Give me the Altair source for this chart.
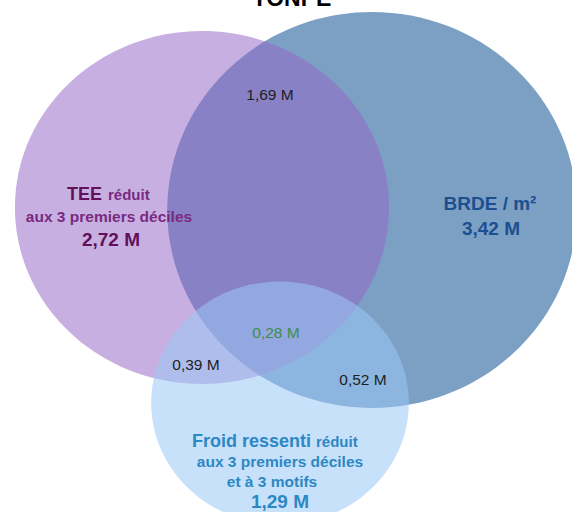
import altair as alt
import pandas as pd

# ---------------- data ----------------
title_text = "TONPE"
set_names = ["TEE", "BRDE / m²", "Froid ressenti"]
set_qualifiers = ["réduit", "", "réduit"]
tee_details = ["aux 3 premiers déciles"]
froid_details = ["aux 3 premiers déciles", "et à 3 motifs"]
set_values = [2.72, 3.42, 1.29]          # millions
overlap_names = ["TEE∩BRDE", "TEE∩BRDE∩Froid", "TEE∩Froid", "BRDE∩Froid"]
overlap_values = [1.69, 0.28, 0.39, 0.52]  # millions


def fmt(v):
    return f"{v:.2f}".replace(".", ",") + " M"


# ---------------- layout (pixel frame of the picture) ----------------
W, H = 572, 512
circle_cx = [202, 372, 280]
circle_cy = [207.5, 210, 403]
circle_stretch = [1.06, 1.035, 1.06]
circle_colors = ["#9565C5", "#7BA0C4", "#9BC8F6"]
circle_opacity = [0.52, 1.0, 0.55]
draw_order = [1, 0, 2]  # BRDE at the bottom, then TEE, then Froid

overlap_x = [270, 276, 196, 363]
overlap_y = [100, 338, 370, 385]
overlap_colors = ["#1e1e1e", "#3E8E4E", "#1e1e1e", "#1e1e1e"]

xs = alt.Scale(domain=[0, W], nice=False, zero=False)
ys = alt.Scale(domain=[0, H], nice=False, zero=False, reverse=True)


def ellipse_path(s):
    k = 0.5523
    a = s
    return (f"M {a} 0 C {a} {k} {a*k:.4f} 1 0 1 C {-a*k:.4f} 1 {-a} {k} {-a} 0 "
            f"C {-a} {-k} {-a*k:.4f} -1 0 -1 C {a*k:.4f} -1 {a} {-k} {a} 0 Z")


size_scale = alt.Scale(type="linear", domain=[0, 1], range=[0, 45800])

layers = []
for i in draw_order:
    df = pd.DataFrame({"set": [set_names[i]], "value": [set_values[i]],
                       "x": [circle_cx[i]], "y": [circle_cy[i]]})
    layers.append(
        alt.Chart(df).mark_point(filled=True, strokeWidth=0,
                                 shape=ellipse_path(circle_stretch[i]),
                                 opacity=circle_opacity[i], clip=True)
        .encode(x=alt.X("x:Q", scale=xs, axis=None),
                y=alt.Y("y:Q", scale=ys, axis=None),
                size=alt.Size("value:Q", scale=size_scale, legend=None),
                color=alt.value(circle_colors[i]))
    )


def text_layer(labels, xpos, ypos, size, color, bold=True, align="center",
               font="Liberation Sans"):
    df = pd.DataFrame({"label": labels, "x": xpos, "y": ypos})
    return alt.Chart(df).mark_text(
        fontSize=size, color=color, fontWeight="bold" if bold else "normal",
        align=align, baseline="alphabetic", font=font
    ).encode(x=alt.X("x:Q", scale=xs, axis=None),
             y=alt.Y("y:Q", scale=ys, axis=None),
             text="label:N")


# title (cut at the top of the picture, as in the reference)
layers.append(text_layer([title_text], [292], [6], 23, "#000000"))

# overlap values
for k in range(len(overlap_values)):
    layers.append(text_layer([fmt(overlap_values[k])], [overlap_x[k]], [overlap_y[k]],
                             15.5, overlap_colors[k], bold=False))

# TEE block
tee_dark, tee_mid = "#62105C", "#782A80"
layers.append(text_layer([set_names[0]], [102], [200], 18, tee_dark, align="right"))
layers.append(text_layer([set_qualifiers[0]], [108], [200], 15, tee_mid, align="left"))
layers.append(text_layer(tee_details, [109], [222], 15.5, tee_mid))
layers.append(text_layer([fmt(set_values[0])], [111], [246], 19, tee_dark))

# BRDE block
brde = "#1C4F8F"
layers.append(text_layer([set_names[1]], [490], [210], 19, brde))
layers.append(text_layer([fmt(set_values[1])], [491], [235], 19, brde))

# Froid block
froid = "#2C88C4"
layers.append(text_layer([set_names[2]], [311], [447], 18, froid, align="right"))
layers.append(text_layer([set_qualifiers[2]], [316], [447], 15, froid, align="left"))
layers.append(text_layer(froid_details, [280, 272], [467, 487], 15.5, froid))
layers.append(text_layer([fmt(set_values[2])], [280], [508], 19, froid))

chart = (
    alt.layer(*layers)
    .properties(width=W, height=H, padding=0,
                autosize=alt.AutoSizeParams(type="none"), background="white")
    .configure_view(stroke=None)
)

chart.save("out.html", embed_options={"renderer": "svg", "actions": False})
